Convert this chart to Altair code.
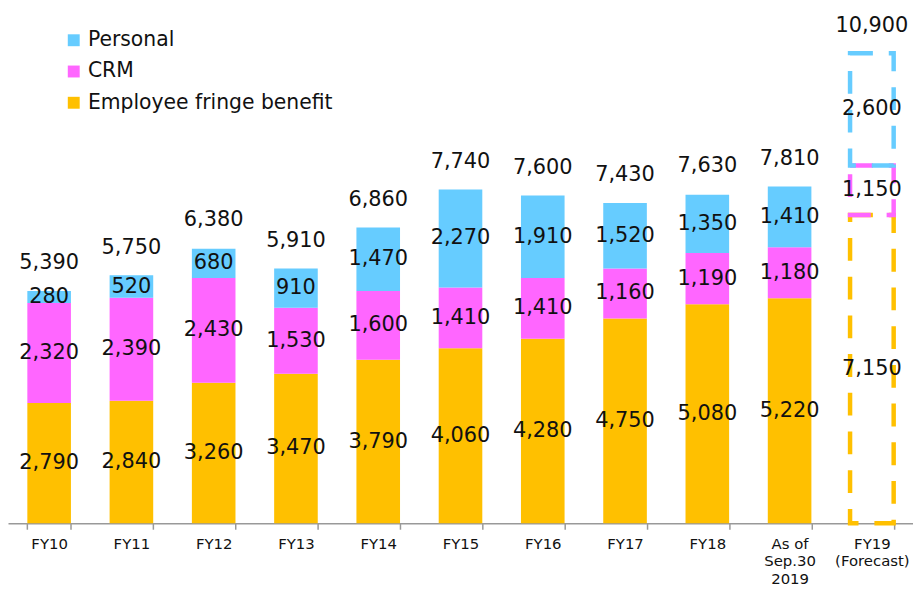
import altair as alt
import pandas as pd

categories = ["FY10", "FY11", "FY12", "FY13", "FY14", "FY15", "FY16", "FY17",
              "FY18", "As of|Sep.30|2019", "FY19|(Forecast)"]
employee = [2790, 2840, 3260, 3470, 3790, 4060, 4280, 4750, 5080, 5220, 7150]
crm = [2320, 2390, 2430, 1530, 1600, 1410, 1410, 1160, 1190, 1180, 1150]
personal = [280, 520, 680, 910, 1470, 2270, 1910, 1520, 1350, 1410, 2600]
totals = [5390, 5750, 6380, 5910, 6860, 7740, 7600, 7430, 7630, 7810, 10900]
series = ["Personal", "CRM", "Employee fringe benefit"]
colors = ["#66CCFF", "#FF66FF", "#FFC000"]
forecast_cat = "FY19|(Forecast)"

rows = []
for i, c in enumerate(categories):
    for s, vals, o in [("Employee fringe benefit", employee, 0), ("CRM", crm, 1), ("Personal", personal, 2)]:
        rows.append({"cat": c, "series": s, "value": vals[i], "ord": o,
                     "forecast": c == forecast_cat})
df = pd.DataFrame(rows)
tot_df = pd.DataFrame({"cat": categories, "total": totals})

FONT = "DejaVu Sans"
xenc = alt.X("cat:N", sort=categories,
             scale=alt.Scale(paddingInner=0.47, paddingOuter=0.235),
             axis=alt.Axis(title=None, labelAngle=0, tickBand="extent",
                           labelExpr="split(datum.label, '|')",
                           labelFontSize=15, labelFont=FONT, labelColor="#111",
                           domainColor="#999", tickColor="#999", tickSize=6,
                           domainWidth=1.5, tickWidth=1.5,
                           labelPadding=7, labelLineHeight=18))
yscale = alt.Scale(domain=[0, 11900])

base = alt.Chart(df).transform_stack(
    stack="value", groupby=["cat"], sort=[alt.SortField("ord", order="ascending")],
    as_=["y0", "y1"]
).transform_calculate(mid="(datum.y0 + datum.y1) / 2")

bars = base.transform_filter("!datum.forecast").mark_bar().encode(
    x=xenc,
    y=alt.Y("y0:Q", scale=yscale, axis=None),
    y2="y1:Q",
    color=alt.Color("series:N", scale=alt.Scale(domain=series, range=colors),
                    legend=alt.Legend(title=None, orient="none", legendX=56, legendY=20,
                                      symbolType="square", symbolSize=144,
                                      symbolStrokeWidth=0, labelFontSize=20.5,
                                      labelFont=FONT, labelColor="#111", labelLimit=0,
                                      labelOffset=4, rowPadding=10.5)),
)

fbars = base.transform_filter("datum.forecast").mark_bar(
    fillOpacity=0, strokeWidth=4.5, strokeDash=[23, 16]
).encode(
    x=xenc,
    y=alt.Y("y0:Q", scale=yscale, axis=None),
    y2="y1:Q",
    stroke=alt.Stroke("series:N", scale=alt.Scale(domain=series, range=colors), legend=None),
)

labels = base.mark_text(fontSize=21, font=FONT, color="#111", baseline="middle").encode(
    x=alt.X("cat:N", sort=categories),
    y=alt.Y("mid:Q", scale=yscale, axis=None),
    text=alt.Text("value:Q", format=","),
)

tots = alt.Chart(tot_df).mark_text(fontSize=21, font=FONT, color="#111",
                                    baseline="alphabetic", dy=-22).encode(
    x=alt.X("cat:N", sort=categories),
    y=alt.Y("total:Q", scale=yscale, axis=None),
    text=alt.Text("total:Q", format=","),
)

chart = alt.layer(bars, fbars, labels, tots).properties(
    width=912, height=517, padding=0
).configure_view(stroke=None)

chart.save("out.html", embed_options={"renderer": "svg", "actions": False})
